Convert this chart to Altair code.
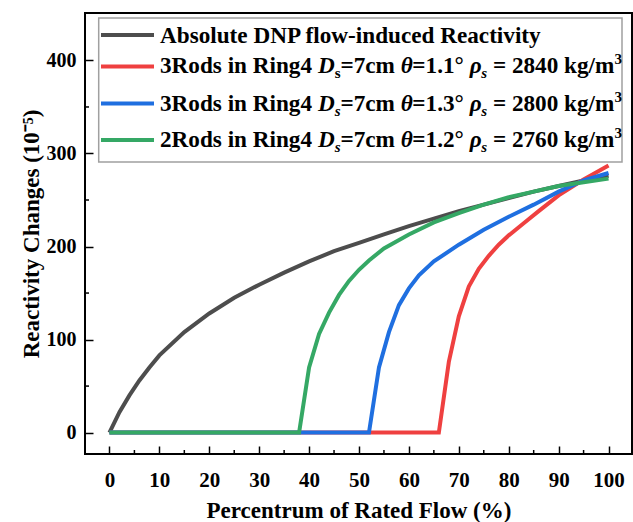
import altair as alt
import pandas as pd

# ---------------- data ----------------
pct_black = [0, 2, 4, 6, 8, 10, 15, 20, 25, 30, 35, 40, 45, 50, 55, 60, 65, 70, 75, 80, 85, 90, 95, 100]
rho_black = [0, 22, 40, 56, 70, 83, 108, 128, 145, 159, 172, 184, 195, 204, 213, 222, 230, 238, 245, 252, 259, 265, 271, 276]

pct_red = [0, 66, 68, 70, 72, 74, 76, 78, 80, 83, 86, 90, 95, 100]
rho_red = [0, 0, 76, 125, 157, 176, 190, 202, 212, 225, 238, 255, 272, 287]

pct_blue = [0, 52, 54, 56, 58, 60, 62, 65, 70, 75, 80, 85, 90, 95, 100]
rho_blue = [0, 0, 70, 108, 137, 155, 169, 184, 202, 218, 232, 245, 259, 271, 279]

pct_green = [0, 38, 40, 42, 44, 46, 48, 50, 52, 55, 60, 65, 70, 75, 80, 85, 90, 95, 100]
rho_green = [0, 0, 70, 106, 129, 148, 163, 175, 185, 198, 213, 226, 236, 245, 253, 259, 265, 269, 273]

series_colors = ["#4d4d4d", "#ef4040", "#1f6fe0", "#35a865"]

legend_first = "Absolute DNP flow-induced Reactivity"
legend_rods = ["3", "3", "2"]
legend_theta = ["1.1", "1.3", "1.2"]
legend_rho = ["2840", "2800", "2760"]
legend_sub_italic = [False, True, True]

x_ticks = [0, 10, 20, 30, 40, 50, 60, 70, 80, 90, 100]
x_minor = [5, 15, 25, 35, 45, 55, 65, 75, 85, 95]
y_ticks = [0, 100, 200, 300, 400]
y_minor = [50, 150, 250, 350]

x_title = "Percentrum of Rated Flow (%)"
y_title = "Reactivity Changes (10\u207b\u2075)"

# ---------------- layout ----------------
W, H = 547, 441
FONT = "Liberation Serif"

xs = alt.Scale(domain=[-4.9, 104.7], nice=False, zero=False)
ys = alt.Scale(domain=[-23, 451], nice=False, zero=False)

common_axis = dict(domain=False, grid=False, tickColor="black", tickWidth=1.5,
                   labelFont=FONT, labelFontWeight="bold", labelColor="black",
                   titleFont=FONT, titleFontWeight="bold", titleColor="black",
                   labelFlush=False, labelOverlap=False, format="d")

x_axis = alt.Axis(values=x_ticks, title=x_title, offset=-8, tickSize=8,
                  labelFontSize=21, labelPadding=15, titleFontSize=23, titlePadding=9,
                  **common_axis)
y_axis = alt.Axis(values=y_ticks, title=y_title, offset=-8, tickSize=8,
                  labelFontSize=20, labelPadding=9, titleFontSize=23, titlePadding=3,
                  **common_axis)


def line(px, py, color):
    df = pd.DataFrame({"pct": px, "rho": py})
    return alt.Chart(df).mark_line(color=color, strokeWidth=4).encode(
        x=alt.X("pct:Q", scale=xs, axis=x_axis),
        y=alt.Y("rho:Q", scale=ys, axis=y_axis),
    )


minor_x = alt.Chart(pd.DataFrame({"pct": x_minor})).mark_rule(color="black", strokeWidth=1.5).encode(
    x=alt.X("pct:Q", scale=xs, axis=x_axis), y=alt.value(H - 4), y2=alt.value(H))
minor_y = alt.Chart(pd.DataFrame({"rho": y_minor})).mark_rule(color="black", strokeWidth=1.5).encode(
    y=alt.Y("rho:Q", scale=ys, axis=y_axis), x=alt.value(0), x2=alt.value(4))

data_layer = alt.layer(
    line(pct_black, rho_black, series_colors[0]),
    line(pct_red, rho_red, series_colors[1]),
    line(pct_blue, rho_blue, series_colors[2]),
    line(pct_green, rho_green, series_colors[3]),
    minor_x, minor_y,
)

# ---------------- custom legend (rich text) ----------------
W_B = {' ': 250, '=': 570, '\u00b0': 400, '.': 250, '/': 278, '(': 333, ')': 333, '-': 333,
       'A': 722, 'D': 722, 'N': 722, 'P': 611, 'R': 722,
       'a': 500, 'b': 556, 'c': 444, 'd': 556, 'e': 444, 'f': 333, 'g': 500, 'i': 278,
       'k': 556, 'l': 278, 'm': 833, 'n': 556, 'o': 500, 'r': 444, 's': 389, 't': 333,
       'u': 556, 'v': 500, 'w': 722, 'y': 500}
for d in "0123456789":
    W_B[d] = 500
W_BI = {'D': 722, 's': 389, '\u03b8': 500, '\u03c1': 500}

FS, SUB = 23.2, 15
TEXT_X = 75
BASE_Y = [29.7, 60.3, 97.7, 134.3]
LINE_Y = [22, 53.5, 90.5, 127]

segs = []


def add_row(parts, y):
    x = TEXT_X
    for txt, fs, style, dy in parts:
        table = W_BI if style == "italic" else W_B
        w = sum(table.get(c, 500) for c in txt) * fs / 1000
        lead = len(txt) - len(txt.lstrip(" "))
        shown = txt.strip(" ")
        if shown:
            segs.append({"tx": x + lead * 250 * fs / 1000, "ty": y + dy, "txt": shown,
                         "fs": fs, "style": style})
        x += w


add_row([(legend_first, FS, "normal", 0)], BASE_Y[0])
for i in range(3):
    add_row([
        (f"{legend_rods[i]}Rods in Ring4 ", FS, "normal", 0),
        ("D", FS, "italic", 0),
        ("s", SUB, "italic" if legend_sub_italic[i] else "normal", 5),
        ("=7cm ", FS, "normal", 0),
        ("\u03b8", FS, "italic", 0),
        (f"={legend_theta[i]}\u00b0 ", FS, "normal", 0),
        ("\u03c1", FS, "italic", 0),
        ("s", SUB, "italic", 5),
        (f" = {legend_rho[i]} kg/m", FS, "normal", 0),
        ("3", SUB, "normal", -9),
    ], BASE_Y[i + 1])

seg_df = pd.DataFrame(segs)
dummy = pd.DataFrame({"a": [0]})

legend_box = alt.Chart(dummy).mark_rect(fill="white", stroke="#a0a0a0", strokeWidth=1.5).encode(
    x=alt.value(13.7), x2=alt.value(537), y=alt.value(5), y2=alt.value(149))

samples = alt.Chart(pd.DataFrame({"ly": LINE_Y, "c": series_colors})).mark_rule(strokeWidth=4).encode(
    y=alt.Y("ly:Q", scale=None, axis=None), x=alt.value(16), x2=alt.value(69),
    color=alt.Color("c:N", scale=None, legend=None))


def text_layer(style):
    return alt.Chart(seg_df).transform_filter(alt.datum.style == style).mark_text(
        font=FONT, fontWeight="bold", fontStyle=style, align="left", baseline="alphabetic",
        color="black").encode(
        x=alt.X("tx:Q", scale=None, axis=None),
        y=alt.Y("ty:Q", scale=None, axis=None),
        text="txt:N",
        size=alt.Size("fs:Q", scale=None, legend=None))


legend_layer = alt.layer(legend_box, samples, text_layer("normal"), text_layer("italic"))

chart = alt.layer(data_layer, legend_layer).resolve_scale(
    x="independent", y="independent", color="independent", size="independent"
).properties(
    width=W, height=H,
    padding={"left": 85, "top": 13, "right": 1, "bottom": 68},
    autosize=alt.AutoSizeParams(type="none"),
).configure_view(stroke="black", strokeWidth=2)

chart.save("out.html", embed_options={"renderer": "svg", "actions": False})
